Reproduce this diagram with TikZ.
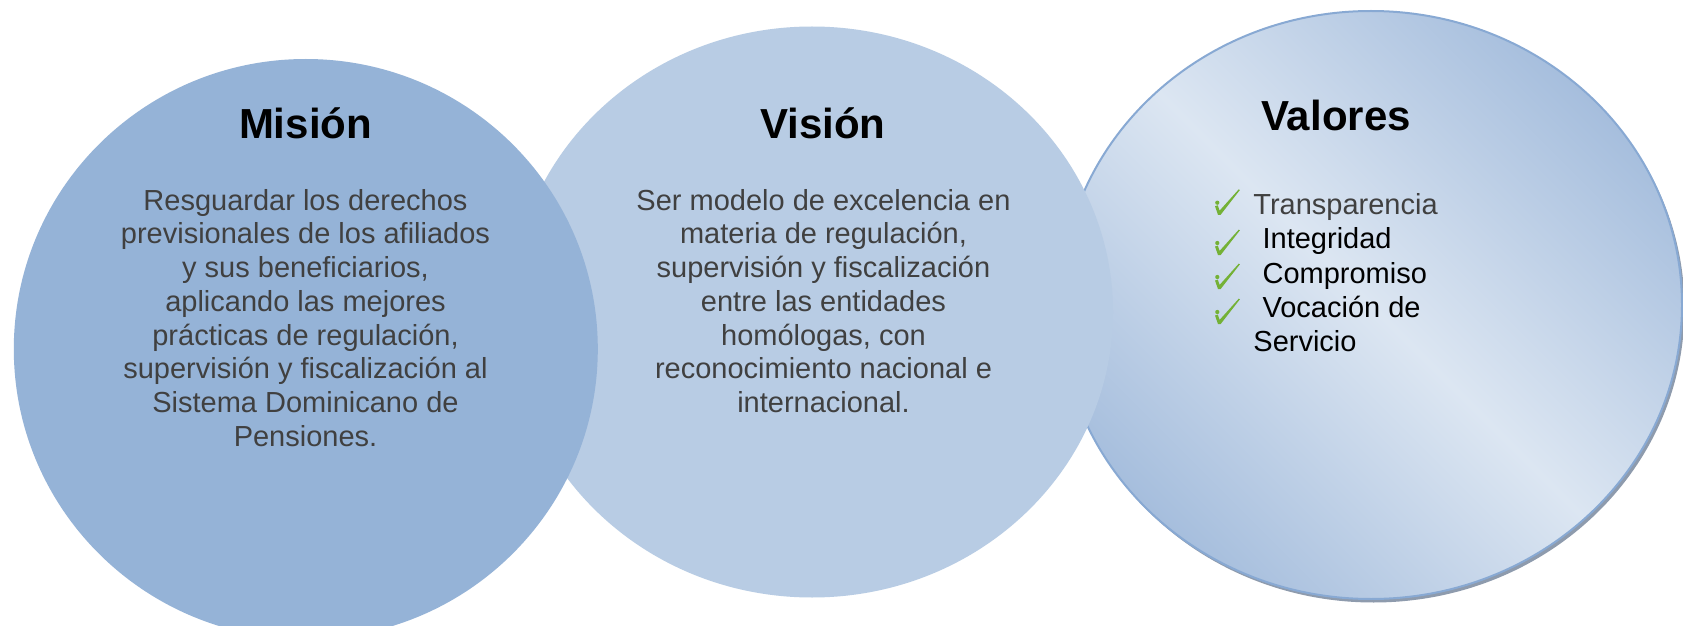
\documentclass[tikz,border=0pt]{standalone}
\usepackage{fontspec}
\setmainfont{Liberation Sans}
\usetikzlibrary{shapes.geometric}
\definecolor{mision}{HTML}{95B3D7}
\definecolor{vision}{HTML}{B8CCE4}
\definecolor{vdark}{HTML}{A6BEDD}
\definecolor{vlight}{HTML}{DCE6F2}
\definecolor{vline}{HTML}{88A9D3}
\definecolor{vshadow}{HTML}{8E9BAD}
\definecolor{bodygray}{HTML}{404040}
\definecolor{chkgreen}{HTML}{74B136}
\pgfdeclarehorizontalshading{valshade}{100bp}{color(0bp)=(vdark); color(25bp)=(vdark); color(50bp)=(vlight); color(75bp)=(vdark); color(100bp)=(vdark)}
\begin{document}
\begin{tikzpicture}[x=0.5pt,y=-0.5pt,
  blob/.style={ellipse, inner sep=0pt, outer sep=0pt},
  ttl/.style={font=\fontsize{21}{25}\selectfont\bfseries, text=black, inner sep=0pt, anchor=base},
  body/.style={font=\fontsize{14.5}{16.85}\selectfont, text=bodygray, align=center, inner sep=0pt, anchor=north},
  lst/.style={font=\fontsize{14.5}{17.2}\selectfont, text=black, align=left, inner sep=0pt, anchor=north west},
  chk/.pic={
    \fill[chkgreen] (-2,-11.3) circle [radius=2.1];
    \fill[chkgreen] (-4.3,-7.8) -- (-1.3,0.8) -- (1.3,0.8) -- (20.6,-24.0) -- (19.4,-24.6) -- (0.3,-3.4) -- (-1.5,-8.7) -- cycle;
  }
]
\useasboundingbox (0,0) rectangle (1683,626);
\clip (0,0) rectangle (1683,626);
\fill[white] (0,0) rectangle (1683,626);
% shapes
\node[blob, fill=vshadow, minimum width=311pt, minimum height=294pt] (valshadow) at (1373.5,308.5) {};
\node[blob, shade, shading=valshade, shading angle=45, draw=vline, line width=1pt, minimum width=311pt, minimum height=294pt] (valores) at (1371,305) {};
\node[blob, fill=vision, minimum width=301pt, minimum height=285.5pt] (vision) at (812,312) {};
\node[blob, fill=mision, minimum width=292pt, minimum height=290pt] (mision) at (305.8,349) {};
% texts
\node[ttl] (t1) at (305.5,139) {Misión};
\node[body] (b1) at (305.5,188.8) {Resguardar los derechos\\previsionales de los afiliados\\y sus beneficiarios,\\aplicando las mejores\\prácticas de regulación,\\supervisión y fiscalización al\\Sistema Dominicano de\\Pensiones.};
\node[ttl] (t2) at (823,138.5) {Visión};
\node[body] (b2) at (823.5,188.8) {Ser modelo de excelencia en\\materia de regulación,\\supervisión y fiscalización\\entre las entidades\\homólogas, con\\reconocimiento nacional e\\internacional.};
\node[ttl] (t3) at (1336,131) {Valores};
\node[lst] (l3) at (1253,192.8) {\textcolor{bodygray}{Transparencia}\\\hspace*{4.6pt}Integridad\\\hspace*{4.6pt}Compromiso\\\hspace*{4.6pt}Vocación de\\Servicio};
\pic at (1219.3,214) {chk};
\pic at (1219.3,254.3) {chk};
\pic at (1219.3,288.3) {chk};
\pic at (1219.3,323.3) {chk};
\end{tikzpicture}
\end{document}
